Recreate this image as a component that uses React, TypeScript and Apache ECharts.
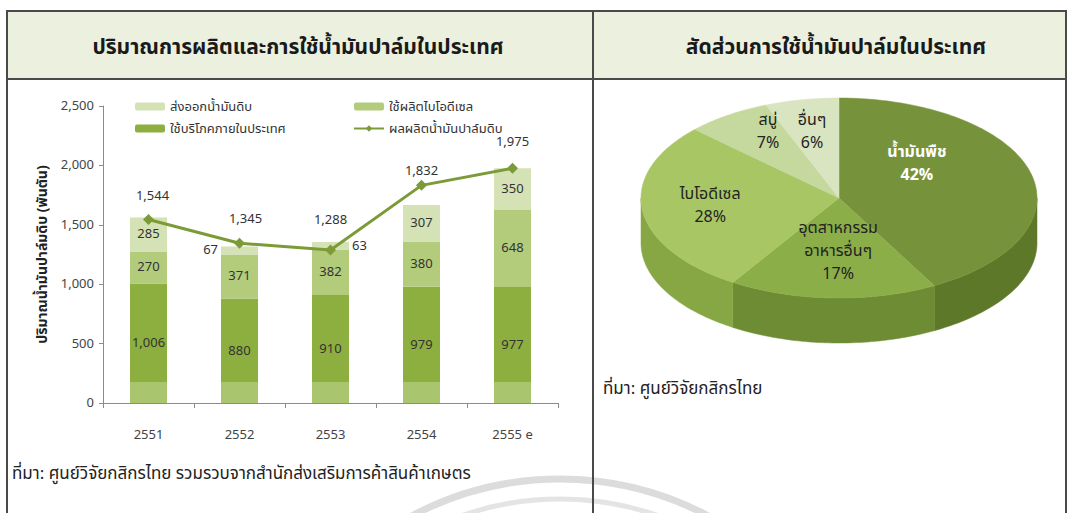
import React, { useEffect, useRef } from "react";
import * as echarts from "echarts";

// ---------- data ----------
const years = ["2551", "2552", "2553", "2554", "2555 e"];
const domesticUse = [1006, 880, 910, 979, 977];
const biodieselUse = [270, 371, 382, 380, 648];
const crudeExport = [285, 67, 63, 307, 350];
const crudeOutput = [1544, 1345, 1288, 1832, 1975];
const yAxisMax = 2500;
const yAxisStep = 500;

const pieNames = ["น้ำมันพืช", "อุตสาหกรรม\nอาหารอื่นๆ", "ไบโอดีเซล", "สบู่", "อื่นๆ"];
const pieShares = [42, 17, 28, 7, 6];

// ---------- styles ----------
const FONT = "Tahoma, 'Noto Sans Thai', 'Noto Sans', 'DejaVu Sans', sans-serif";
const C_DOM = "#8caf3f";
const C_DOM_LOW = "#a9c56d";
const C_BIO = "#b2cc7c";
const C_EXP = "#d4e2b6";
const C_LINE = "#7c9b36";
const SHEEN = 177; // height of the lighter base band (visual effect)
const exportLabelPos: Record<number, string> = { 1: "left", 2: "right" };
const lineLabelNudge = [[4, 0], [6, 0], [0, -6], [0, 10], [0, -2]];

const pieTopColors = ["#76933c", "#8cae48", "#a8c764", "#c5d89d", "#d9e5c0"];
const pieSideColors = ["#5d7829", "#6e8c34", "#87a745", "#9fbb63", "#b5cc89"];
const pieLabelColors = ["#ffffff", "#222222", "#222222", "#222222", "#222222"];
const pieLabelNudge = [[-41, -19], [3, -9], [-7, 0], [-2, -15], [-4, -6]];
const PIE = { cx: 839, cy: 198, rx: 198, ry: 100, depth: 45, labelR: 0.62 };

const fmt = (v: number) => v.toLocaleString("en-US");

function sliceAngles(i: number): [number, number] {
  const total = pieShares.reduce((a, b) => a + b, 0);
  let s = 0;
  for (let j = 0; j < i; j++) s += pieShares[j];
  return [(s / total) * Math.PI * 2, ((s + pieShares[i]) / total) * Math.PI * 2];
}
function ePt(t: number, dy = 0): number[] {
  return [PIE.cx + PIE.rx * Math.sin(t), PIE.cy - PIE.ry * Math.cos(t) + dy];
}
function arcPts(a: number, b: number, dy = 0): number[][] {
  const n = Math.max(2, Math.ceil(Math.abs(b - a) / 0.02));
  const out: number[][] = [];
  for (let k = 0; k <= n; k++) out.push(ePt(a + ((b - a) * k) / n, dy));
  return out;
}

export default function App() {
  const ref = useRef<HTMLDivElement>(null);
  useEffect(() => {
    if (!ref.current) return;
    const chart = echarts.init(ref.current, null, { renderer: "svg" });

    const domData = domesticUse.map((v) => {
      const f = 1 - SHEEN / v;
      return {
        value: v,
        itemStyle: {
          color: new echarts.graphic.LinearGradient(0, 0, 0, 1, [
            { offset: 0, color: C_DOM },
            { offset: f, color: C_DOM },
            { offset: f, color: C_DOM_LOW },
            { offset: 1, color: C_DOM_LOW },
          ]),
        },
      };
    });
    const expData = crudeExport.map((v, i) =>
      exportLabelPos[i] ? { value: v, label: { position: exportLabelPos[i], distance: 3 } } : v
    );
    const lineData = crudeOutput.map((v, i) => ({ value: v, label: { offset: lineLabelNudge[i] } }));

    const barLabel = {
      show: true,
      position: "inside",
      fontSize: 13,
      color: "#333",
      fontFamily: FONT,
      formatter: (p: any) => fmt(p.value),
    };

    const legendText = { fontSize: 13, color: "#333", fontFamily: FONT, lineHeight: 15 };

    const option: any = {
      animation: false,
      backgroundColor: "#ffffff",
      textStyle: { fontFamily: FONT },
      grid: { left: 103, right: 510, top: 106, bottom: 110 },
      legend: [
        {
          left: 130,
          top: 94,
          orient: "vertical",
          itemGap: 7,
          itemWidth: 30,
          itemHeight: 8,
          textStyle: legendText,
          data: ["ส่งออกน้ำมันดิบ", "ใช้บริโภคภายในประเทศ"],
        },
        {
          left: 348,
          top: 94,
          orient: "vertical",
          itemGap: 7,
          itemWidth: 30,
          itemHeight: 8,
          textStyle: legendText,
          data: ["ใช้ผลิตไบโอดีเซล", "ผลผลิตน้ำมันปาล์มดิบ"],
        },
      ],
      xAxis: {
        type: "category",
        data: years,
        axisLine: { lineStyle: { color: "#8c8c8c" } },
        axisTick: { show: true, length: 5, lineStyle: { color: "#8c8c8c" } },
        axisLabel: { margin: 25, fontSize: 13, color: "#444", fontFamily: FONT },
      },
      yAxis: {
        type: "value",
        min: 0,
        max: yAxisMax,
        interval: yAxisStep,
        name: "ปริมาณน้ำมันปาล์มดิบ (พันตัน)",
        nameLocation: "middle",
        nameGap: 54,
        nameTextStyle: { fontSize: 14, color: "#222", fontWeight: "bold", fontFamily: FONT },
        axisLine: { show: true, lineStyle: { color: "#8c8c8c" } },
        axisTick: { show: true, length: 4, lineStyle: { color: "#8c8c8c" } },
        splitLine: { show: false },
        axisLabel: { margin: 9, fontSize: 13, color: "#444", fontFamily: FONT, formatter: (v: number) => fmt(v) },
      },
      series: [
        {
          name: "ใช้บริโภคภายในประเทศ",
          type: "bar",
          stack: "use",
          barWidth: 37,
          itemStyle: { color: C_DOM },
          label: barLabel,
          data: domData,
        },
        {
          name: "ใช้ผลิตไบโอดีเซล",
          type: "bar",
          stack: "use",
          barWidth: 37,
          itemStyle: { color: C_BIO },
          label: barLabel,
          data: biodieselUse,
        },
        {
          name: "ส่งออกน้ำมันดิบ",
          type: "bar",
          stack: "use",
          barWidth: 37,
          itemStyle: { color: C_EXP },
          label: barLabel,
          data: expData,
        },
        {
          name: "ผลผลิตน้ำมันปาล์มดิบ",
          type: "line",
          z: 5,
          symbol: "diamond",
          symbolSize: 11,
          lineStyle: { color: C_LINE, width: 3 },
          itemStyle: { color: C_LINE },
          label: {
            show: true,
            position: "top",
            distance: 12,
            fontSize: 13,
            color: "#333",
            fontFamily: FONT,
            formatter: (p: any) => fmt(p.value),
          },
          data: lineData,
        },
        {
          name: "pieSide",
          type: "custom",
          coordinateSystem: "none",
          silent: true,
          z: 3,
          data: pieShares,
          renderItem: (params: any) => {
            const i = params.dataIndex;
            const [t1, t2] = sliceAngles(i);
            const a = Math.max(t1, Math.PI / 2);
            const b = Math.min(t2, (Math.PI * 3) / 2);
            if (a >= b) return { type: "group", children: [] };
            const top = arcPts(a, b, 0);
            const bot = arcPts(b, a, PIE.depth);
            return {
              type: "polygon",
              shape: { points: top.concat(bot) },
              style: { fill: pieSideColors[i], stroke: pieSideColors[i], lineWidth: 0.5 },
            };
          },
        },
        {
          name: "pieTop",
          type: "custom",
          coordinateSystem: "none",
          silent: true,
          z: 4,
          data: pieShares,
          renderItem: (params: any, api: any) => {
            const i = params.dataIndex;
            const [t1, t2] = sliceAngles(i);
            const pts = [[PIE.cx, PIE.cy]].concat(arcPts(t1, t2, 0));
            const tm = (t1 + t2) / 2;
            const lx = PIE.cx + PIE.rx * PIE.labelR * Math.sin(tm) + pieLabelNudge[i][0];
            const ly = PIE.cy - PIE.ry * PIE.labelR * Math.cos(tm) + pieLabelNudge[i][1];
            return {
              type: "group",
              children: [
                {
                  type: "polygon",
                  shape: { points: pts },
                  style: { fill: pieTopColors[i], stroke: pieTopColors[i], lineWidth: 0.5 },
                },
                {
                  type: "text",
                  z2: 10,
                  style: {
                    text: pieNames[i] + "\n" + api.value(0) + "%",
                    x: lx,
                    y: ly,
                    align: "center",
                    verticalAlign: "middle",
                    fill: pieLabelColors[i],
                    fontSize: 16,
                    lineHeight: 23,
                    fontWeight: i === 0 ? "bold" : "normal",
                    fontFamily: FONT,
                  },
                },
              ],
            };
          },
        },
      ],
      graphic: [
        {
          type: "arc",
          z: 0,
          silent: true,
          shape: { cx: 560, cy: 795, r: 316, startAngle: -Math.PI / 2 - 0.9, endAngle: -Math.PI / 2 + 0.9 },
          style: { stroke: "#dcdcdc", lineWidth: 7, fill: null },
        },
        {
          type: "arc",
          z: 0,
          silent: true,
          shape: { cx: 560, cy: 795, r: 296, startAngle: -Math.PI / 2 - 0.9, endAngle: -Math.PI / 2 + 0.9 },
          style: { stroke: "#e4e4e4", lineWidth: 5, fill: null },
        },
        {
          type: "rect",
          z: 0,
          silent: true,
          shape: { x: 7, y: 11, width: 1059, height: 68 },
          style: { fill: "#ebf1de" },
        },
        { type: "line", z: 1, shape: { x1: 6, y1: 11, x2: 1066, y2: 11 }, style: { stroke: "#4a4a4a", lineWidth: 2 } },
        { type: "line", z: 1, shape: { x1: 6, y1: 79, x2: 1066, y2: 79 }, style: { stroke: "#4a4a4a", lineWidth: 2 } },
        { type: "line", z: 1, shape: { x1: 7, y1: 10, x2: 7, y2: 513 }, style: { stroke: "#4a4a4a", lineWidth: 2 } },
        { type: "line", z: 1, shape: { x1: 593, y1: 10, x2: 593, y2: 513 }, style: { stroke: "#4a4a4a", lineWidth: 2 } },
        { type: "line", z: 1, shape: { x1: 1066, y1: 10, x2: 1066, y2: 513 }, style: { stroke: "#4a4a4a", lineWidth: 2 } },
        {
          type: "text",
          z: 10,
          style: {
            text: "ปริมาณการผลิตและการใช้น้ำมันปาล์มในประเทศ",
            x: 298,
            y: 47,
            align: "center",
            verticalAlign: "middle",
            fontSize: 21,
            fontWeight: "bold",
            fill: "#1a1a1a",
            fontFamily: FONT,
          },
        },
        {
          type: "text",
          z: 10,
          style: {
            text: "สัดส่วนการใช้น้ำมันปาล์มในประเทศ",
            x: 836,
            y: 47,
            align: "center",
            verticalAlign: "middle",
            fontSize: 21,
            fontWeight: "bold",
            fill: "#1a1a1a",
            fontFamily: FONT,
          },
        },
        {
          type: "text",
          z: 10,
          style: {
            text: "ที่มา: ศูนย์วิจัยกสิกรไทย รวมรวบจากสำนักส่งเสริมการค้าสินค้าเกษตร",
            x: 12,
            y: 474,
            verticalAlign: "middle",
            fontSize: 17,
            fill: "#222",
            fontFamily: FONT,
          },
        },
        {
          type: "text",
          z: 10,
          style: {
            text: "ที่มา: ศูนย์วิจัยกสิกรไทย",
            x: 603,
            y: 389,
            verticalAlign: "middle",
            fontSize: 17,
            fill: "#222",
            fontFamily: FONT,
          },
        },
      ],
    };

    chart.setOption(option);
    return () => chart.dispose();
  }, []);

  return (
    <div
      ref={ref}
      style={{ position: "fixed", left: 0, top: 0, width: 1068, height: 513, background: "#fff" }}
    />
  );
}
